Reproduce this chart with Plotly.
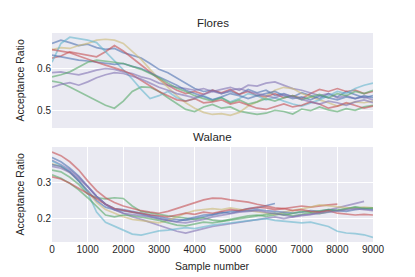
import plotly.graph_objects as go
from plotly.subplots import make_subplots

samples = list(range(0, 9001, 250))

# Flores chains (acceptance ratio)
flores_blue_a = [0.660,0.668,0.662,0.655,0.658,0.650,0.646,0.648,0.638,0.632,0.625,0.612,0.598,0.590,0.578,0.565,0.552,0.545,0.548,0.540,0.545,0.538,0.550,0.542,0.548,0.536,0.540,0.532,0.542,0.535,0.528,0.540,0.532,0.545,0.538,0.530,0.535]
flores_green_a = [0.570,0.566,0.556,0.545,0.532,0.522,0.512,0.505,0.522,0.545,0.556,0.555,0.545,0.530,0.515,0.502,0.497,0.508,0.514,0.505,0.508,0.498,0.494,0.490,0.493,0.500,0.497,0.491,0.503,0.499,0.508,0.501,0.497,0.504,0.500,0.508,0.512]
flores_red_a = [0.625,0.630,0.640,0.636,0.632,0.628,0.640,0.655,0.642,0.625,0.610,0.592,0.575,0.560,0.548,0.540,0.545,0.538,0.548,0.542,0.550,0.538,0.545,0.535,0.532,0.540,0.530,0.535,0.528,0.540,0.550,0.545,0.552,0.545,0.548,0.540,0.545]
flores_purple_a = [0.590,0.592,0.588,0.585,0.590,0.596,0.600,0.598,0.592,0.588,0.580,0.575,0.565,0.560,0.555,0.552,0.548,0.552,0.545,0.550,0.555,0.548,0.560,0.558,0.565,0.568,0.560,0.552,0.548,0.542,0.535,0.540,0.530,0.535,0.528,0.532,0.525]
flores_yellow = [0.645,0.650,0.648,0.655,0.660,0.668,0.670,0.668,0.660,0.640,0.622,0.598,0.575,0.555,0.535,0.518,0.505,0.495,0.490,0.492,0.488,0.495,0.510,0.520,0.535,0.548,0.555,0.552,0.540,0.532,0.525,0.518,0.510,0.515,0.520,0.518,0.522]
flores_cyan = [0.615,0.660,0.675,0.672,0.668,0.662,0.640,0.620,0.598,0.575,0.550,0.528,0.535,0.545,0.530,0.522,0.528,0.535,0.525,0.530,0.520,0.528,0.540,0.535,0.525,0.530,0.522,0.515,0.510,0.518,0.525,0.535,0.545,0.540,0.552,0.560,0.565]
flores_blue_b = [0.632,0.628,0.625,0.620,0.618,0.615,0.612,0.610,0.612,0.605,0.600,0.590,0.580,0.570,0.560,0.548,0.540,0.532,0.525,0.532,0.540,0.535,0.528,0.535,0.540,0.545,0.535,0.528,0.532,0.525,0.535,0.530,0.525,0.532,0.528,0.535,0.530]
flores_green_b = [0.580,0.585,0.592,0.603,0.615,0.620,0.618,0.615,0.612,0.605,0.598,0.588,0.578,0.565,0.553,0.545,0.535,0.528,0.522,0.530,0.518,0.525,0.515,0.520,0.528,0.522,0.530,0.535,0.525,0.532,0.538,0.530,0.540,0.535,0.545,0.540,0.548]
flores_red_b = [0.645,0.642,0.638,0.630,0.622,0.615,0.608,0.602,0.595,0.585,0.572,0.560,0.545,0.535,0.525,0.522,0.528,0.518,0.520,0.525,0.515,0.520,0.512,0.505,0.502,0.508,0.515,0.508,0.512,0.520,0.515,0.505,0.510,0.518,0.512,0.505,0.510]
flores_purple_b = [0.555,0.562,0.566,0.560,0.568,0.578,0.585,0.590,0.588,0.582,0.575,0.565,0.555,0.548,0.540,0.535,0.530,0.538,0.545,0.540,0.548,0.552,0.545,0.540,0.535,0.530,0.538,0.532,0.525,0.520,0.515,0.522,0.518,0.512,0.520,0.525,0.518]

# Walane chains (some stop early)
walane_blue_a = [0.370,0.358,0.340,0.318,0.290,0.262,0.240,0.228,0.225,0.220,0.215,0.210,0.205,0.200,0.198,0.195,0.200,0.205,0.210,0.215,0.220,0.222,0.228,0.230,0.235,0.242]
walane_green_a = [0.335,0.330,0.315,0.295,0.268,0.258,0.255,0.258,0.256,0.235,0.220,0.215,0.212,0.208,0.205,0.200,0.198,0.202,0.196,0.193,0.198,0.202,0.208,0.210,0.206,0.210,0.214,0.208,0.212,0.216,0.214,0.220,0.224,0.228,0.232,0.230,0.228]
walane_red_a = [0.385,0.375,0.358,0.335,0.305,0.278,0.258,0.245,0.235,0.228,0.222,0.218,0.215,0.220,0.228,0.236,0.245,0.252,0.257,0.256,0.252,0.250,0.246,0.240,0.235,0.230,0.228,0.232,0.235,0.232,0.236,0.238,0.240]
walane_purple_a = [0.362,0.350,0.335,0.315,0.290,0.262,0.240,0.225,0.215,0.205,0.198,0.190,0.180,0.172,0.165,0.160,0.165,0.172,0.178,0.182,0.185,0.190,0.195,0.198,0.202,0.205,0.200,0.205,0.210,0.212,0.218,0.225,0.230,0.235,0.242,0.248]
walane_yellow = [0.352,0.345,0.328,0.305,0.275,0.245,0.225,0.215,0.205,0.198,0.195,0.192,0.188,0.195,0.205,0.215,0.222,0.225,0.228,0.225,0.230,0.226,0.222,0.218,0.215,0.212,0.218,0.222,0.228,0.232,0.238,0.235,0.232,0.230,0.228,0.232,0.230]
walane_cyan = [0.360,0.348,0.330,0.305,0.272,0.218,0.190,0.180,0.168,0.157,0.154,0.160,0.166,0.168,0.172,0.175,0.172,0.178,0.182,0.185,0.188,0.192,0.195,0.198,0.200,0.195,0.192,0.190,0.188,0.190,0.185,0.178,0.165,0.160,0.158,0.155,0.148]
walane_blue_b = [0.350,0.345,0.330,0.305,0.278,0.250,0.232,0.225,0.222,0.218,0.212,0.205,0.200,0.195,0.192,0.198,0.205,0.210,0.212,0.218,0.215,0.220,0.222,0.225,0.222,0.220,0.218,0.215,0.218,0.222,0.220,0.225,0.222,0.220,0.225,0.228,0.225]
walane_green_b = [0.322,0.312,0.298,0.280,0.258,0.235,0.210,0.205,0.210,0.208,0.205,0.200,0.195,0.188,0.182,0.180,0.185,0.190,0.188,0.192,0.195,0.200,0.205,0.208,0.212,0.215,0.210,0.215,0.220,0.218,0.222,0.225,0.222,0.228,0.232,0.228,0.230]
walane_red_b = [0.316,0.310,0.298,0.285,0.270,0.255,0.240,0.228,0.222,0.218,0.215,0.210,0.208,0.205,0.210,0.215,0.212,0.218,0.215,0.220,0.225,0.222,0.228,0.232,0.230,0.225,0.228,0.222,0.225,0.220,0.218,0.222,0.215,0.212,0.210,0.212,0.210]
walane_purple_b = [0.345,0.340,0.328,0.310,0.288,0.262,0.240,0.225,0.215,0.212,0.208,0.205,0.200,0.195,0.190,0.188,0.192,0.198,0.205,0.210,0.215,0.218,0.220,0.222,0.218,0.215,0.210,0.205,0.208,0.212,0.215,0.218,0.222,0.225,0.228,0.225,0.222]

panel_titles = ["Flores", "Walane"]
y_title = "Acceptance Ratio"
x_title = "Sample number"
x_ticks = list(range(0, 9001, 1000))

BLUE, GREEN, RED, PURPLE, YELLOW, CYAN = "#4C72B0", "#55A868", "#C44E52", "#8172B2", "#CCB974", "#64B5CD"

flores = [(flores_blue_a, BLUE), (flores_green_a, GREEN), (flores_red_a, RED), (flores_purple_a, PURPLE),
          (flores_yellow, YELLOW), (flores_cyan, CYAN), (flores_blue_b, BLUE), (flores_green_b, GREEN),
          (flores_red_b, RED), (flores_purple_b, PURPLE)]
walane = [(walane_blue_a, BLUE), (walane_green_a, GREEN), (walane_red_a, RED), (walane_purple_a, PURPLE),
          (walane_yellow, YELLOW), (walane_cyan, CYAN), (walane_blue_b, BLUE), (walane_green_b, GREEN),
          (walane_red_b, RED), (walane_purple_b, PURPLE)]

fig = make_subplots(rows=2, cols=1, shared_xaxes=False, vertical_spacing=0.0909)

for row, series in ((1, flores), (2, walane)):
    for vals, col in series:
        fig.add_trace(go.Scatter(x=samples[:len(vals)], y=vals, mode="lines",
                                 line=dict(color=col, width=1.7), opacity=0.6,
                                 showlegend=False, hoverinfo="skip"), row=row, col=1)

FONT = "Liberation Sans, Arial, sans-serif"
TXT = "#262626"
fig.update_layout(
    width=415, height=277,
    margin=dict(l=52, r=42, t=33, b=35, autoexpand=False),
    paper_bgcolor="white", plot_bgcolor="#EAEAF2",
    font=dict(family=FONT, size=10, color=TXT),
)
fig.update_layout(
    xaxis=dict(domain=[0, 1], range=[0, 9000], showgrid=False, showticklabels=False, zeroline=False,
               ticks="", automargin=False),
    yaxis=dict(domain=[0.5455, 1], range=[0.4576, 0.685], dtick=0.1, tick0=0, tickformat=".1f",
               gridcolor="white", gridwidth=1, zeroline=False, ticks="", automargin=False),
    xaxis2=dict(domain=[0, 1], range=[0, 9000], tickvals=x_ticks, gridcolor="white", gridwidth=1,
                zeroline=False, ticks="", automargin=False),
    yaxis2=dict(domain=[0, 0.4545], range=[0.135, 0.399], dtick=0.1, tick0=0, tickformat=".1f",
                gridcolor="white", gridwidth=1, zeroline=False, ticks="", automargin=False),
)
for t, ypos in zip(panel_titles, [1.048, 0.502]):
    fig.add_annotation(text=t, x=0.5, y=ypos, xref="paper", yref="paper", showarrow=False,
                       xanchor="center", yanchor="middle", font=dict(size=11.5, color=TXT))
for ypos in [0.7727, 0.2273]:
    fig.add_annotation(text=y_title, x=-0.0997, y=ypos, xref="paper", yref="paper", showarrow=False,
                       textangle=-90, xanchor="center", yanchor="middle", font=dict(size=10.5, color=TXT))
fig.add_annotation(text=x_title, x=0.5, y=-0.115, xref="paper", yref="paper", showarrow=False,
                   xanchor="center", yanchor="middle", font=dict(size=10.5, color=TXT))

fig.write_html("out.html", config={"displayModeBar": False, "staticPlot": True},
               post_script="document.body.style.margin='0px';document.body.style.overflow='hidden';")
